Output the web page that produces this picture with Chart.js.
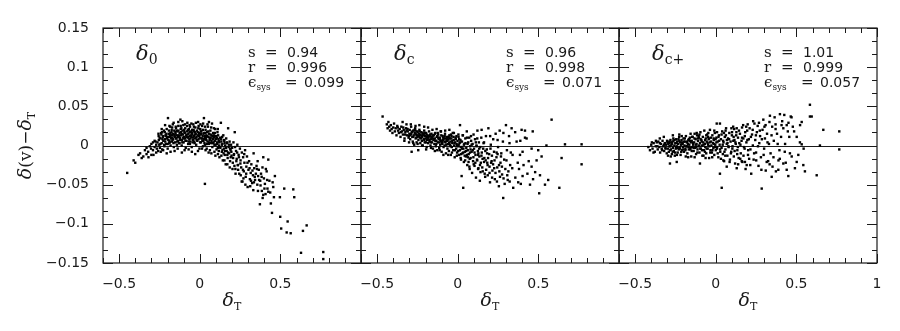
<!DOCTYPE html>
<html lang="en">
<head>
<meta charset="UTF-8">
<title>delta(v) - delta_T residuals</title>
<script src="https://cdn.jsdelivr.net/npm/chart.js@4.4.1/dist/chart.umd.min.js"></script>
<style>
    html, body { margin: 0; padding: 0; background: #fff; }
    #wrap { position: relative; width: 900px; height: 331px; }
    #wrap canvas { position: absolute; left: 0; top: 0; }
</style>
</head>
<body>
<div id="wrap">
    <canvas id="p0" width="900" height="331"></canvas>
    <canvas id="p1" width="900" height="331"></canvas>
    <canvas id="p2" width="900" height="331"></canvas>
</div>
<script>
// labelled ticks
const xLabelled = [-0.5, 0, 0.5, 1];
const yLabelled = [-0.15, -0.1, -0.05, 0, 0.05, 0.1, 0.15];

// panel names and fit statistics (s, r, eps_sys)
const panelNames = ['0', 'c', 'c+'];
const statS = ['0.94', '0.96', '1.01'];
const statR = ['0.996', '0.998', '0.999'];
const statEps = ['0.099', '0.071', '0.057'];

// delta_0 : [delta_T, delta(v) - delta_T]
const delta0Points = [
  [-0.45,-0.035],[-0.41,-0.019],[-0.40,-0.022],[-0.38,-0.012],[-0.37,-0.010],[-0.36,-0.016],[-0.35,-0.014],[-0.34,-0.006],
  [-0.33,-0.011],[-0.33,-0.003],[-0.32,-0.008],[-0.31,-0.001],[-0.30,-0.012],[-0.30,0.002],[-0.29,-0.006],[-0.29,0.004],
  [-0.28,-0.002],[-0.28,0.006],[-0.27,-0.009],[-0.27,0.001],
  [-0.262,0.004],[-0.258,-0.007],[-0.255,0.012],[-0.251,0.001],[-0.247,-0.003],[-0.243,0.009],[-0.240,0.016],[-0.236,0.003],
  [-0.233,-0.005],[-0.229,0.011],[-0.226,0.006],[-0.222,0.019],[-0.219,-0.001],[-0.215,0.008],[-0.212,0.013],[-0.208,0.002],
  [-0.205,0.021],[-0.202,0.010],[-0.199,-0.004],[-0.197,0.035],
  [-0.195,0.007],[-0.192,0.015],[-0.189,0.003],[-0.186,0.011],[-0.183,0.024],[-0.181,0.000],[-0.178,0.009],[-0.175,0.017],
  [-0.172,0.005],[-0.170,0.013],[-0.167,0.027],[-0.164,0.008],[-0.161,-0.002],[-0.158,0.019],[-0.156,0.011],[-0.153,0.004],
  [-0.150,0.015],[-0.147,0.022],[-0.145,0.009],[-0.142,0.001],[-0.140,0.013],
  [-0.138,0.018],[-0.135,0.006],[-0.133,0.025],[-0.130,0.011],[-0.127,0.003],[-0.125,0.016],[-0.122,0.009],[-0.120,0.033],
  [-0.118,0.021],[-0.115,0.013],[-0.112,0.000],[-0.110,0.007],[-0.107,0.019],[-0.105,0.014],[-0.102,0.026],[-0.100,0.004],
  [-0.097,0.011],[-0.095,0.017],[-0.092,0.009],[-0.090,0.022],[-0.087,-0.003],[-0.085,0.013],[-0.082,0.006],[-0.080,0.018],
  [-0.077,0.029],[-0.075,0.010],[-0.072,0.002],[-0.070,0.015],[-0.067,0.021],[-0.065,0.008],[-0.062,0.012],[-0.060,0.024],
  [-0.058,0.005],[-0.055,0.017],[-0.052,0.011],[-0.050,-0.002],[-0.047,0.020],[-0.045,0.014],[-0.042,0.007],[-0.040,0.027],
  [-0.037,0.012],[-0.035,0.018],[-0.032,0.003],[-0.030,0.009],[-0.027,0.023],[-0.025,0.015],[-0.022,0.001],[-0.020,0.011],
  [-0.017,0.019],[-0.015,0.006],[-0.012,0.013],[-0.010,0.030],[-0.007,0.008],[-0.005,0.016],[-0.002,-0.004],[0.000,0.010],
  [0.003,0.021],[0.005,0.014],[0.008,0.004],[0.010,0.018],[0.013,0.009],[0.015,0.025],[0.018,0.012],[0.020,-0.001],
  [0.023,0.006],[0.026,0.035],[0.028,0.016],[0.031,0.010],[0.033,0.001],[0.036,0.020],[0.038,0.008],[0.041,0.013],
  [0.043,-0.004],[0.046,0.017],[0.048,0.005],[0.051,0.024],[0.053,0.011],[0.056,0.002],[0.058,0.015],[0.061,0.007],
  [0.063,-0.006],[0.066,0.019],[0.068,0.010],[0.071,0.003],[0.073,0.013],[0.076,0.028],[0.078,-0.002],[0.081,0.008],
  [0.083,0.016],[0.086,0.004],[0.088,0.011],[0.091,-0.008],[0.093,0.006],[0.096,0.021],[0.098,0.001],
  [0.101,0.012],[0.104,-0.005],[0.107,0.004],[0.110,0.017],[0.113,-0.011],[0.116,0.008],[0.119,0.000],[0.122,-0.015],
  [0.125,0.010],[0.128,-0.003],[0.131,0.029],[0.134,0.005],[0.137,-0.008],[0.140,0.002],[0.143,-0.019],[0.146,0.013],
  [0.149,-0.004],[0.152,0.006],[0.155,-0.012],[0.158,0.000],[0.161,-0.024],[0.164,0.009],[0.167,-0.007],[0.170,0.003],
  [0.173,-0.016],[0.176,0.022],[0.179,-0.002],[0.182,-0.010],[0.185,0.005],[0.188,-0.020],[0.191,-0.006],[0.194,0.001],
  [0.197,-0.013],
  [0.201,-0.003],[0.205,-0.022],[0.209,0.004],[0.213,-0.011],[0.217,0.017],[0.221,-0.030],[0.225,-0.007],[0.229,-0.017],
  [0.233,0.001],[0.237,-0.025],[0.241,-0.012],[0.245,-0.036],[0.249,-0.004],[0.253,-0.019],[0.257,-0.028],[0.261,-0.009],
  [0.265,-0.046],[0.269,-0.015],[0.273,-0.033],[0.277,-0.022],[0.281,-0.006],[0.285,-0.040],[0.289,-0.027],[0.293,-0.014],
  [0.297,-0.053],
  [0.302,-0.031],[0.306,-0.020],[0.311,-0.043],[0.316,-0.035],[0.320,-0.024],[0.325,-0.048],[0.330,-0.038],[0.332,-0.057],
  [0.334,-0.010],[0.338,-0.029],[0.343,-0.044],[0.348,-0.036],[0.352,-0.026],[0.357,-0.050],[0.362,-0.039],[0.366,-0.031],
  [0.373,-0.075],[0.375,-0.045],[0.380,-0.036],[0.385,-0.058],[0.390,-0.067],[0.394,-0.015],[0.394,-0.063],[0.398,-0.042],
  [0.404,-0.049],[0.410,-0.030],[0.415,-0.033],[0.420,-0.055],[0.425,-0.059],[0.425,-0.018],[0.432,-0.045],[0.441,-0.074],
  [0.448,-0.086],[0.456,-0.053],[0.460,-0.066],[0.466,-0.039],
  [0.497,-0.066],[0.499,-0.091],[0.505,-0.106],[0.524,-0.055],[0.539,-0.111],[0.545,-0.097],[0.564,-0.112],[0.580,-0.056],
  [0.586,-0.066],[0.628,-0.137],[0.640,-0.109],[0.663,-0.102],[0.766,-0.136],[0.766,-0.145],[0.032,-0.049],[0.260,-0.046],
  // dense arch
  [-0.231,0.008],[-0.174,0.020],[-0.093,0.016],[-0.018,0.007],[0.047,0.012],[0.121,0.004],[-0.207,0.015],[-0.141,0.005],
  [-0.064,0.017],[0.006,0.018],[0.084,0.009],[0.163,-0.003],[-0.249,0.010],[-0.188,0.006],[-0.117,0.017],[-0.041,0.010],
  [0.029,0.003],[0.102,0.008],[0.188,-0.004],[-0.221,0.001],[-0.159,0.014],[-0.083,0.011],[-0.009,0.022],[0.067,0.014],
  [0.141,-0.006],[-0.196,0.011],[-0.132,0.019],[-0.057,0.009],[0.016,0.006],[0.091,0.001],[0.211,-0.012],[-0.238,0.014],
  [-0.169,0.007],[-0.104,0.010],[-0.028,0.014],[0.041,0.007],[0.114,0.013],[0.176,-0.009],[-0.214,0.005],[-0.151,0.017],
  [-0.073,0.020],[-0.003,0.013],[0.058,0.004],[0.133,0.008],[0.227,-0.020],[-0.184,0.013],[-0.126,0.003],[-0.049,0.016],
  [0.023,0.015],[0.098,0.009],[0.154,0.003],[-0.203,0.009],[-0.137,0.011],[-0.068,0.005],[0.011,0.009],[0.073,0.006],
  [0.148,-0.010],[0.243,-0.015],[-0.226,0.012],[-0.163,0.003],[-0.097,0.020],[-0.034,0.005],[0.035,0.016],[0.108,0.002],
  [-0.178,0.013],[-0.112,0.015],[-0.038,0.020],[0.053,0.018],[0.126,-0.002],[0.196,-0.008],[-0.244,0.002],[-0.191,0.019],
  [-0.121,0.007],[-0.054,0.013],[0.002,0.004],[0.079,0.012],[0.168,0.004],[-0.217,0.017],[-0.146,0.009],[-0.078,0.014],
  [-0.013,0.017],[0.061,0.010],[0.137,0.001],[0.219,-0.002],[-0.199,0.002],[-0.129,0.013],[-0.061,0.002],[0.019,0.020],
  [0.088,0.013],[0.158,-0.007],[-0.172,0.010],[-0.108,0.004],[-0.046,0.019],[0.031,0.012],[0.106,0.010],[0.181,0.001],
  [-0.233,0.017],[-0.155,0.012],[-0.089,0.006],[-0.024,0.010],[0.044,0.002],[0.119,0.006],[0.207,-0.016],[-0.182,0.016],
  [-0.114,0.022],[-0.044,0.004],[0.027,0.008],[0.094,0.016],[0.171,-0.012],[-0.209,0.012],[-0.143,0.019],[-0.071,0.011],
  [-0.006,0.012],[0.064,0.008],[0.139,0.011],[0.236,-0.025],[-0.167,0.015],[-0.099,0.009],[-0.031,0.017],[0.038,0.011],
  [0.112,-0.003],[0.192,-0.015],[-0.254,0.007],[-0.186,0.004],[-0.124,0.010],[-0.059,0.018],[0.009,0.015],[0.081,0.003],
  [0.151,0.007],[0.215,-0.026],[0.232,-0.009],[0.252,-0.023],[0.268,-0.031],[0.276,-0.011],[0.288,-0.036],[0.296,-0.022],
  [0.309,-0.029],[0.318,-0.045],[0.327,-0.032],[0.341,-0.040],[0.355,-0.030],[0.368,-0.044],[0.384,-0.040],[0.401,-0.055],
  [0.418,-0.044],[0.437,-0.060],[0.452,-0.047],
  // arch fringes
  [-0.215,0.026],[-0.162,0.029],[-0.108,0.031],[-0.052,0.028],[0.004,0.027],[0.057,0.030],[-0.188,0.025],[-0.133,0.030],
  [-0.079,0.025],[-0.024,0.029],[0.033,0.024],[0.088,0.022],[-0.236,0.021],[-0.149,0.024],[-0.092,0.027],[-0.036,0.024],
  [0.021,0.028],[0.071,0.023],[0.112,0.021],[-0.171,0.023],[-0.118,0.025],[-0.063,0.026],[-0.007,0.025],[0.048,0.027],
  [-0.227,-0.006],[-0.181,-0.008],[-0.137,-0.004],[-0.094,-0.006],[-0.049,-0.008],[-0.011,-0.007],[0.036,-0.006],[0.072,-0.010],
  [0.118,-0.007],[-0.205,-0.010],[-0.156,-0.007],[-0.111,-0.009],[-0.069,-0.005],[-0.028,-0.011],[0.014,-0.004],[0.055,-0.009],
  [0.097,-0.013],[0.134,-0.013],[0.153,-0.019],[0.171,-0.024],[0.186,-0.028],[0.203,-0.030],[0.222,-0.036],[0.238,-0.031],
  [0.254,-0.038],[0.271,-0.042],[0.283,-0.050],[0.313,-0.052],[0.336,-0.047],[0.361,-0.058],[0.377,-0.051],[0.408,-0.062],
  [0.389,-0.028],[0.359,-0.020],[-0.318,-0.015],[-0.302,-0.004],[-0.287,-0.012],[-0.274,0.005],[-0.266,-0.004],[-0.256,0.015],
  [-0.242,-0.008]
];

// delta_c
const deltaCPoints = [
  [-0.466,0.037],[-0.440,0.027],[-0.435,0.022],[-0.430,0.030],[-0.425,0.024],[-0.420,0.019],[-0.415,0.026],[-0.410,0.021],
  [-0.405,0.016],[-0.400,0.023],[-0.395,0.028],[-0.390,0.018],[-0.385,0.022],[-0.380,0.013],[-0.375,0.025],[-0.370,0.019],
  [-0.365,0.016],[-0.360,0.021],[-0.355,0.011],[-0.350,0.024],[-0.345,0.018],[-0.340,0.014],[-0.335,0.020],[-0.330,0.009],
  [-0.325,0.017],[-0.320,0.022],[-0.315,0.013],[-0.310,0.018],[-0.305,0.010],[-0.300,0.015],
  [-0.298,0.020],[-0.295,0.008],[-0.292,0.014],[-0.289,0.024],[-0.286,-0.008],[-0.285,0.017],[-0.282,0.011],[-0.279,0.005],
  [-0.276,0.019],[-0.273,0.013],[-0.270,0.001],[-0.267,0.016],[-0.264,0.022],[-0.261,0.009],[-0.258,0.014],[-0.255,0.004],
  [-0.252,0.018],[-0.249,0.011],[-0.245,-0.006],[-0.244,0.007],[-0.241,0.015],[-0.238,0.020],[-0.235,0.010],[-0.232,0.003],
  [-0.229,0.013],[-0.226,0.017],[-0.223,0.006],[-0.220,0.011],[-0.217,0.000],[-0.214,0.015],[-0.211,0.008],[-0.208,0.019],
  [-0.205,0.004],[-0.202,0.012],[-0.199,0.009],[-0.196,0.016],[-0.193,-0.002],[-0.190,0.007],[-0.187,0.013],[-0.184,0.003],
  [-0.181,0.010],[-0.178,0.018],[-0.175,0.005],[-0.172,0.012],[-0.169,0.000],[-0.166,0.008],[-0.163,0.015],[-0.160,0.004],
  [-0.157,0.010],[-0.154,-0.004],[-0.151,0.007],
  [-0.148,0.013],[-0.145,0.002],[-0.142,0.009],[-0.139,0.016],[-0.136,-0.001],[-0.133,0.006],[-0.130,0.011],[-0.127,-0.006],
  [-0.124,0.004],[-0.121,0.014],[-0.118,0.008],[-0.115,-0.003],[-0.112,0.010],[-0.109,0.001],[-0.106,0.018],[-0.103,0.006],
  [-0.100,-0.008],[-0.097,0.003],[-0.094,0.012],[-0.091,0.007],[-0.088,-0.002],[-0.085,0.009],[-0.082,0.000],[-0.079,0.015],
  [-0.076,0.004],[-0.073,-0.010],[-0.070,0.006],[-0.067,0.011],[-0.064,-0.004],[-0.061,0.002],[-0.058,0.008],[-0.055,-0.007],
  [-0.052,0.013],[-0.049,0.001],[-0.046,0.005],[-0.043,-0.012],[-0.040,0.009],[-0.037,-0.002],[-0.034,0.003],[-0.031,0.016],
  [-0.028,-0.006],[-0.025,0.007],[-0.022,0.000],[-0.019,-0.015],[-0.016,0.004],[-0.013,0.010],[-0.010,-0.004],[-0.007,0.002],
  [-0.004,-0.009],[-0.001,0.006],
  [0.002,-0.001],[0.005,0.011],[0.008,-0.012],[0.011,0.003],[0.014,0.026],[0.014,-0.006],[0.017,0.007],[0.020,-0.018],
  [0.023,-0.002],[0.024,-0.039],[0.026,0.005],[0.029,-0.010],[0.032,0.013],[0.034,-0.054],[0.035,-0.004],[0.038,-0.021],
  [0.041,0.002],[0.044,-0.008],[0.047,0.009],[0.050,-0.014],[0.053,-0.003],[0.056,0.018],[0.059,-0.025],[0.062,-0.006],
  [0.065,0.004],[0.068,-0.011],[0.071,0.010],[0.074,-0.030],[0.077,-0.001],[0.080,-0.016],[0.083,0.006],[0.086,-0.008],
  [0.089,-0.035],[0.092,0.002],[0.095,-0.020],[0.098,0.014],[0.101,-0.004],[0.104,-0.026],[0.107,0.008],[0.110,-0.012],
  [0.113,-0.041],[0.116,0.000],[0.119,-0.018],[0.122,0.019],[0.125,-0.007],[0.128,-0.029],[0.131,0.004],[0.134,-0.014],
  [0.137,-0.045],[0.140,-0.002],[0.143,-0.022],[0.146,0.010],[0.148,0.020],[0.149,-0.009],
  [0.155,-0.033],[0.160,0.003],[0.165,-0.016],[0.170,-0.040],[0.175,0.012],[0.180,-0.005],[0.185,-0.025],[0.190,0.022],
  [0.195,-0.011],[0.200,-0.047],[0.205,0.001],[0.210,-0.020],[0.215,-0.032],[0.220,0.008],[0.225,-0.008],[0.230,-0.043],
  [0.235,0.015],[0.240,-0.015],[0.245,-0.028],[0.250,-0.002],[0.255,-0.052],[0.260,0.019],[0.265,-0.022],[0.270,-0.010],
  [0.275,-0.037],[0.280,0.005],[0.282,-0.067],[0.288,-0.018],[0.295,-0.030],[0.299,0.026],[0.305,-0.006],[0.310,-0.044],
  [0.318,0.012],[0.325,-0.025],[0.334,0.022],[0.340,-0.012],[0.344,-0.054],
  [0.365,0.005],[0.375,-0.047],[0.380,-0.030],[0.386,-0.012],[0.396,0.020],[0.402,-0.039],[0.402,-0.008],[0.417,0.019],
  [0.417,0.010],[0.427,0.009],[0.440,-0.020],[0.448,-0.050],[0.458,-0.027],[0.458,-0.004],[0.465,0.018],[0.480,-0.034],
  [0.499,-0.006],[0.505,-0.061],[0.510,-0.038],[0.520,-0.014],[0.541,-0.050],[0.561,-0.044],[0.582,0.033],[0.630,-0.054],
  [0.644,-0.016],[0.665,0.0015],[0.768,0.0015],[0.768,-0.024],[0.550,0.000],
  // dense band
  [-0.372,0.023],[-0.311,0.021],[-0.262,0.015],[-0.203,0.016],[-0.148,0.008],[-0.091,0.010],[-0.034,0.006],[0.027,-0.004],
  [0.086,0.001],[0.147,-0.013],[-0.352,0.017],[-0.296,0.013],[-0.241,0.012],[-0.187,0.008],[-0.127,0.012],[-0.071,0.001],
  [-0.012,0.008],[0.043,-0.013],[0.104,-0.009],[0.163,-0.021],[-0.338,0.023],[-0.281,0.018],[-0.228,0.009],[-0.171,0.014],
  [-0.113,0.004],[-0.056,0.011],[0.003,-0.007],[0.061,0.002],[0.121,-0.019],[0.182,-0.010],[-0.327,0.014],[-0.268,0.020],
  [-0.213,0.013],[-0.159,0.009],[-0.102,0.013],[-0.044,-0.001],[0.015,0.004],[0.074,-0.017],[0.133,-0.004],[0.197,-0.027],
  [-0.318,0.019],[-0.257,0.010],[-0.198,0.004],[-0.142,0.015],[-0.083,0.005],[-0.026,0.011],[0.034,-0.009],[0.093,-0.006],
  [0.154,-0.017],[0.212,-0.013],[-0.303,0.012],[-0.249,0.017],[-0.191,0.011],[-0.133,0.002],[-0.077,0.009],[-0.017,-0.006],
  [0.048,0.003],[0.109,-0.022],[0.171,-0.007],[0.228,-0.019],[-0.289,0.015],[-0.234,0.014],[-0.176,0.007],[-0.121,0.010],
  [-0.063,0.006],[-0.005,0.000],[0.057,-0.012],[0.117,-0.001],[0.176,-0.031],[0.241,-0.009],[-0.276,0.011],[-0.219,0.016],
  [-0.164,0.011],[-0.108,0.007],[-0.049,0.009],[0.009,0.008],[0.067,-0.021],[0.128,-0.010],[0.188,-0.016],[0.256,-0.025],
  [-0.263,0.019],[-0.207,0.007],[-0.153,0.013],[-0.096,0.002],[-0.039,0.012],[0.021,-0.011],[0.079,-0.005],[0.138,-0.025],
  [0.203,-0.004],[0.268,-0.014],[-0.253,0.013],[-0.194,0.014],[-0.139,0.006],[-0.081,0.012],[-0.021,0.003],[0.038,0.001],
  [0.097,-0.015],[0.158,-0.004],[0.219,-0.024],[0.284,-0.042],[-0.236,0.018],[-0.181,0.012],[-0.124,0.016],[-0.067,0.008],
  [-0.008,0.012],[0.052,-0.007],[0.112,0.004],[0.173,-0.019],[0.234,-0.035],[0.302,-0.019],[-0.223,0.012],[-0.167,0.004],
  [-0.111,0.009],[-0.053,0.003],[0.006,0.001],[0.063,-0.015],[0.126,-0.012],[0.186,-0.038],[0.247,-0.011],[0.314,-0.033],
  [-0.211,0.015],[-0.156,0.012],[-0.099,0.005],[-0.042,0.014],[0.018,-0.002],[0.076,-0.009],[0.141,-0.034],[0.207,-0.022],
  [0.262,-0.040],[0.329,-0.009],
  // band fringes
  [-0.342,0.030],[-0.291,0.027],[-0.238,0.026],[-0.184,0.023],[-0.131,0.021],[-0.078,0.019],[-0.024,0.016],[0.031,0.013],
  [0.082,0.012],[-0.318,0.027],[-0.262,0.025],[-0.208,0.024],[-0.157,0.020],[-0.104,0.018],[-0.052,0.020],[0.004,0.014],
  [0.057,0.010],[0.121,0.009],[-0.331,0.006],[-0.276,0.003],[-0.221,0.000],[-0.166,-0.003],[-0.112,-0.006],[-0.059,-0.012],
  [-0.006,-0.013],[0.046,-0.019],[0.099,-0.024],[-0.302,0.004],[-0.249,0.002],[-0.196,-0.005],[-0.142,-0.007],[-0.089,-0.012],
  [-0.036,-0.009],[0.018,-0.016],[0.072,-0.027],[0.126,-0.030],[0.152,-0.028],[0.167,-0.036],[0.183,-0.022],[0.197,-0.035],
  [0.213,-0.041],[0.226,-0.029],[0.243,-0.046],[0.258,-0.033],[0.274,-0.027],[0.291,-0.049],[0.307,-0.038],[0.322,-0.046],
  [0.338,-0.029],[0.357,-0.041],[0.372,-0.022],[0.391,-0.049],[0.408,-0.025],[0.432,-0.036],[0.467,-0.043],[0.489,-0.019],
  [0.163,0.004],[0.201,0.012],[0.247,0.007],[0.283,0.016],[0.321,0.003],[0.356,0.017],[0.388,0.006]
];

// delta_c+
const deltaCPlusPoints = [
  [-0.418,-0.002],[-0.408,-0.006],[-0.400,0.001],[-0.392,-0.004],[-0.385,0.003],[-0.378,-0.008],[-0.372,-0.001],[-0.366,0.004],
  [-0.360,-0.005],[-0.356,0.005],[-0.350,-0.002],[-0.345,-0.009],[-0.340,0.002],[-0.335,-0.004],[-0.330,0.006],[-0.325,-0.001],
  [-0.320,-0.007],[-0.316,0.003],[-0.312,-0.003],[-0.308,0.001],[-0.304,-0.010],[-0.300,0.004],
  [-0.297,-0.004],[-0.294,0.002],[-0.291,-0.008],[-0.288,0.005],[-0.284,-0.023],[-0.284,-0.001],[-0.281,0.007],[-0.278,-0.005],
  [-0.275,0.001],[-0.272,-0.011],[-0.269,0.004],[-0.266,-0.003],[-0.263,0.009],[-0.260,-0.007],[-0.257,0.000],[-0.254,-0.013],
  [-0.251,0.003],[-0.248,-0.004],[-0.245,0.008],[-0.242,-0.021],[-0.242,-0.001],[-0.239,0.005],[-0.236,-0.009],[-0.233,0.002],
  [-0.230,-0.005],[-0.227,0.011],[-0.224,-0.002],[-0.221,0.004],[-0.218,-0.012],[-0.215,0.001],[-0.212,0.007],[-0.209,-0.006],
  [-0.206,0.003],[-0.203,-0.002],[-0.200,0.009],[-0.197,-0.008],[-0.194,0.000],[-0.191,0.005],[-0.188,-0.004],[-0.185,0.012],
  [-0.182,-0.001],[-0.179,0.004],[-0.176,-0.010],[-0.173,0.002],[-0.170,0.007],[-0.167,-0.005],[-0.164,0.001],[-0.161,0.010],
  [-0.158,-0.003],[-0.155,0.004],[-0.152,-0.014],
  [-0.149,0.006],[-0.146,-0.002],[-0.143,0.011],[-0.140,0.001],[-0.137,-0.007],[-0.134,0.004],[-0.131,0.015],[-0.128,-0.003],
  [-0.125,0.008],[-0.122,-0.011],[-0.119,0.002],[-0.116,0.013],[-0.113,-0.005],[-0.110,0.006],[-0.107,-0.001],[-0.104,0.010],
  [-0.101,-0.009],[-0.098,-0.023],[-0.098,0.003],[-0.095,0.017],[-0.092,-0.004],[-0.089,0.007],[-0.086,0.000],[-0.083,-0.013],
  [-0.080,0.011],[-0.077,0.004],[-0.074,-0.006],[-0.071,0.019],[-0.068,0.002],[-0.065,-0.002],[-0.062,0.009],[-0.059,-0.010],
  [-0.056,0.005],[-0.053,0.014],[-0.050,-0.004],[-0.047,0.001],[-0.044,0.008],[-0.041,-0.016],[-0.038,0.004],[-0.036,0.020],
  [-0.033,-0.006],[-0.030,0.010],[-0.027,0.000],[-0.024,-0.009],[-0.021,0.013],[-0.018,0.003],[-0.015,-0.003],[-0.012,0.007],
  [-0.009,-0.012],[-0.006,0.016],[-0.003,0.001],
  [0.000,-0.006],[0.004,0.010],[0.006,0.028],[0.008,-0.002],[0.012,0.005],[0.016,-0.015],[0.020,0.013],[0.024,0.001],
  [0.026,0.028],[0.026,-0.036],[0.028,-0.008],[0.032,0.008],[0.036,-0.003],[0.037,-0.054],[0.040,0.018],[0.044,-0.011],
  [0.048,0.004],[0.052,-0.020],[0.056,0.011],[0.060,-0.005],[0.064,0.022],[0.068,-0.027],[0.068,0.002],[0.072,-0.013],
  [0.076,0.009],[0.080,-0.002],[0.084,0.016],[0.088,-0.018],[0.092,0.005],[0.096,-0.008],[0.100,0.013],[0.104,-0.001],
  [0.108,0.024],[0.112,-0.014],[0.116,0.007],[0.120,-0.023],[0.124,0.002],[0.128,0.017],[0.130,0.022],[0.130,-0.029],
  [0.134,-0.006],[0.138,0.010],[0.142,-0.016],[0.146,0.003],
  [0.150,0.015],[0.155,-0.010],[0.160,0.006],[0.165,-0.021],[0.170,0.026],[0.175,-0.002],[0.180,0.012],[0.185,-0.030],
  [0.190,0.004],[0.192,-0.025],[0.195,0.019],[0.200,-0.012],[0.205,0.008],[0.210,0.022],[0.215,-0.005],[0.220,-0.036],
  [0.225,0.014],[0.230,0.000],[0.235,-0.018],[0.240,0.028],[0.245,0.007],[0.250,-0.009],[0.255,0.017],[0.260,0.025],
  [0.265,-0.026],[0.270,0.003],[0.275,0.012],[0.280,-0.015],[0.285,-0.055],[0.290,0.020],[0.295,0.033],[0.300,-0.004],
  [0.305,0.009],[0.310,-0.032],[0.318,0.015],[0.325,-0.020],[0.330,0.002],[0.336,0.038],[0.340,-0.010],[0.347,-0.040],
  [0.350,0.024],
  [0.360,0.006],[0.365,0.036],[0.373,-0.033],[0.380,0.015],[0.388,-0.031],[0.395,-0.006],[0.398,0.040],[0.405,0.011],
  [0.419,0.022],[0.419,-0.023],[0.425,0.039],[0.430,0.002],[0.440,0.026],[0.440,-0.031],[0.450,-0.039],[0.456,0.011],
  [0.460,-0.010],[0.465,0.037],[0.471,-0.014],[0.470,0.036],[0.502,0.011],[0.502,-0.021],[0.522,0.004],[0.533,0.0015],
  [0.533,0.030],[0.543,-0.025],[0.553,-0.033],[0.584,0.052],[0.584,0.037],[0.595,0.037],[0.626,-0.038],[0.646,0.000],
  [0.667,0.020],[0.766,0.018],[0.766,-0.005],
  // dense core
  [-0.362,-0.001],[-0.291,0.003],[-0.236,-0.003],[-0.177,0.005],[-0.121,-0.002],[-0.066,0.007],[-0.011,0.002],[0.046,0.006],
  [0.103,-0.004],[0.163,0.010],[-0.347,0.003],[-0.282,-0.006],[-0.226,0.006],[-0.169,-0.002],[-0.112,0.009],[-0.057,-0.004],
  [-0.001,0.008],[0.054,-0.008],[0.111,0.011],[0.172,-0.013],[-0.333,-0.006],[-0.273,0.002],[-0.214,-0.008],[-0.161,0.006],
  [-0.103,0.000],[-0.048,0.011],[0.008,-0.004],[0.063,0.013],[0.122,0.004],[0.183,0.017],[-0.322,0.001],[-0.263,0.006],
  [-0.206,0.002],[-0.149,-0.007],[-0.094,0.008],[-0.039,-0.001],[0.017,0.011],[0.073,0.003],[0.133,-0.011],[0.196,0.007],
  [-0.311,-0.004],[-0.252,-0.009],[-0.197,0.005],[-0.141,0.003],[-0.085,-0.006],[-0.029,0.005],[0.027,-0.005],[0.083,0.008],
  [0.144,0.019],[0.207,-0.017],[-0.302,0.006],[-0.244,0.003],[-0.188,-0.006],[-0.132,0.009],[-0.076,0.001],[-0.021,-0.006],
  [0.036,0.014],[0.094,-0.010],[0.153,0.001],[0.218,0.011],[-0.287,-0.001],[-0.231,0.008],[-0.179,-0.001],[-0.124,0.001],
  [-0.067,-0.008],[-0.013,0.009],[0.043,0.001],[0.101,0.017],[0.161,-0.020],[0.229,0.020],[-0.276,0.004],[-0.221,-0.004],
  [-0.166,0.008],[-0.114,-0.009],[-0.059,0.013],[-0.004,-0.002],[0.051,0.016],[0.109,0.006],[0.171,0.009],[0.238,-0.010],
  [-0.267,-0.008],[-0.211,0.004],[-0.157,-0.005],[-0.106,0.012],[-0.051,0.003],[0.004,0.004],[0.059,-0.013],[0.117,-0.007],
  [0.179,-0.004],[0.249,0.013],[-0.256,0.007],[-0.201,-0.005],[-0.146,0.011],[-0.096,-0.004],[-0.042,0.009],[0.012,-0.010],
  [0.069,0.007],[0.127,0.013],[0.189,0.024],[0.262,-0.001],[-0.246,-0.002],[-0.192,0.009],[-0.137,-0.003],[-0.087,0.005],
  [-0.034,-0.009],[0.021,0.006],[0.078,-0.001],[0.137,-0.002],[0.201,-0.006],[0.273,0.019],[0.286,0.008],[0.297,-0.012],
  [0.309,0.026],[0.321,0.004],[0.334,-0.024],[0.346,0.013],[0.358,-0.015],[0.371,0.027],[0.384,0.002],[0.397,-0.017],
  [0.412,0.031],[0.428,-0.008],[0.447,0.018],[0.478,0.024],[0.491,-0.029],
  // core fringes
  [-0.322,0.011],[-0.266,0.013],[-0.211,0.012],[-0.156,0.015],[-0.101,0.014],[-0.046,0.016],[0.008,0.017],[0.061,0.019],
  [0.114,0.021],[-0.296,-0.013],[-0.241,-0.012],[-0.186,-0.014],[-0.131,-0.015],[-0.076,-0.013],[-0.022,-0.015],[0.032,-0.017],
  [0.086,-0.021],[0.139,-0.024],[-0.347,0.009],[-0.279,-0.014],[-0.226,0.014],[-0.171,-0.015],[-0.118,0.016],[-0.063,-0.016],
  [-0.009,0.019],[0.047,-0.019],[0.097,0.022],[0.152,-0.017],[0.163,0.023],[0.181,-0.021],[0.198,0.027],[0.214,-0.025],
  [0.232,0.031],[0.251,-0.019],[0.268,0.029],[0.283,-0.031],[0.302,0.024],[0.316,-0.021],[0.333,0.030],[0.352,-0.027],
  [0.371,0.021],[0.389,-0.019],[0.408,0.026],[0.434,-0.022],[0.451,0.029],[0.486,0.018],[0.512,-0.012],[0.523,0.026],
  [0.545,-0.004],[-0.386,-0.009],[-0.371,0.006],[-0.396,0.004]
];

const allPoints = [delta0Points, deltaCPoints, deltaCPlusPoints];

const INK = '#1a1a1a';
const NUM_FONT = '14px "DejaVu Sans"';
const SERIF = '"DejaVu Serif"';

function isIn(v, list) {
    return list.some(t => Math.abs(t - v) < 1e-6);
}
function fmt(v) {
    return String(+v.toFixed(3)).replace('-', '\u2212');
}

// draws a run of text pieces (with sub-scripts) starting at x, or centred on x
function drawRun(ctx, x, y, parts, align) {
    let w = 0;
    parts.forEach(p => { ctx.font = p.font; w += ctx.measureText(p.t).width; });
    let cx = align === 'center' ? x - w / 2 : x;
    ctx.textAlign = 'left';
    parts.forEach(p => {
        ctx.font = p.font;
        ctx.fillText(p.t, cx, y + (p.dy || 0));
        cx += ctx.measureText(p.t).width;
    });
}

const deco = {
    id: 'deco',
    beforeDatasetsDraw(chart) {
        const {ctx, chartArea: a, scales: {x, y}} = chart;
        ctx.save();
        ctx.strokeStyle = INK;
        ctx.lineWidth = 1;
        const y0 = Math.round(y.getPixelForValue(0)) + 0.5;
        ctx.beginPath();
        ctx.moveTo(a.left, y0);
        ctx.lineTo(a.right, y0);
        ctx.stroke();
        ctx.restore();
    },
    afterDraw(chart, args, opts) {
        const {ctx, chartArea: a, scales: {x, y}} = chart;
        ctx.save();
        ctx.strokeStyle = INK;
        ctx.lineWidth = 1.2;
        ctx.strokeRect(a.left, a.top, a.right - a.left, a.bottom - a.top);

        // inward ticks on all four sides
        ctx.lineWidth = 1;
        ctx.beginPath();
        x.ticks.forEach(t => {
            const px = Math.round(x.getPixelForValue(t.value)) + 0.5;
            const len = isIn(t.value, xLabelled) ? 9 : 5;
            ctx.moveTo(px, a.bottom); ctx.lineTo(px, a.bottom - len);
            ctx.moveTo(px, a.top); ctx.lineTo(px, a.top + len);
        });
        y.ticks.forEach(t => {
            const py = Math.round(y.getPixelForValue(t.value)) + 0.5;
            const len = isIn(t.value, yLabelled) ? 10 : 5;
            ctx.moveTo(a.left, py); ctx.lineTo(a.left + len, py);
            ctx.moveTo(a.right, py); ctx.lineTo(a.right - len, py);
        });
        ctx.stroke();

        ctx.fillStyle = INK;
        ctx.textBaseline = 'alphabetic';
        const L = a.left;
        const i = opts.index;

        // panel name
        drawRun(ctx, L + 33, 60, [
            {t: '\u03b4', font: 'italic 21px ' + SERIF},
            {t: panelNames[i], font: '14px ' + SERIF, dy: 4}
        ]);

        // statistics
        ctx.font = '15px ' + SERIF;
        ctx.fillText('s', L + 145, 57);
        ctx.fillText('r', L + 145, 72);
        drawRun(ctx, L + 145, 87, [
            {t: '\u03f5', font: '15px ' + SERIF},
            {t: 'sys', font: '9px ' + SERIF, dy: 3}
        ]);
        ctx.font = '15px ' + SERIF;
        ctx.fillText('=', L + 162, 57);
        ctx.fillText('=', L + 162, 72);
        ctx.fillText('=', L + 182, 87);
        ctx.font = NUM_FONT;
        ctx.fillText(statS[i], L + 184, 57);
        ctx.fillText(statR[i], L + 184, 72);
        ctx.fillText(statEps[i], L + 201, 87);

        // x title
        drawRun(ctx, (a.left + a.right) / 2, 306, [
            {t: '\u03b4', font: 'italic 19px ' + SERIF},
            {t: 'T', font: '11px ' + SERIF, dy: 4}
        ], 'center');

        // y title, first panel only
        if (i === 0) {
            ctx.save();
            ctx.translate(31, (a.top + a.bottom) / 2);
            ctx.rotate(-Math.PI / 2);
            drawRun(ctx, 0, 0, [
                {t: '\u03b4', font: 'italic 19px ' + SERIF},
                {t: '(v)\u2212', font: '17px ' + SERIF},
                {t: '\u03b4', font: 'italic 19px ' + SERIF},
                {t: 'T', font: '11px ' + SERIF, dy: 4}
            ], 'center');
            ctx.restore();
        }
        ctx.restore();
    }
};

const layouts = [
    {left: 0, right: 539},
    {left: 361, right: 281},
    {left: 619, right: 23}
];

allPoints.forEach((pts, i) => {
    const first = i === 0;
    const last = i === 2;
    new Chart(document.getElementById('p' + i), {
        type: 'scatter',
        data: {
            datasets: [{
                data: pts.map(p => ({x: p[0], y: p[1]})),
                backgroundColor: '#000',
                borderWidth: 0,
                pointStyle: 'rect',
                pointRadius: 1.7,
                pointHoverRadius: 1.7
            }]
        },
        options: {
            responsive: false,
            animation: false,
            events: [],
            layout: {padding: {left: layouts[i].left, right: layouts[i].right, top: 28, bottom: 0}},
            plugins: {
                legend: {display: false},
                tooltip: {enabled: false},
                deco: {index: i}
            },
            scales: {
                x: {
                    type: 'linear',
                    min: -0.6,
                    max: 1.0,
                    grid: {display: false},
                    border: {display: false},
                    afterFit: s => { s.height = 68; },
                    ticks: {
                        stepSize: 0.1,
                        autoSkip: false,
                        maxRotation: 0,
                        padding: 5,
                        color: INK,
                        font: {family: 'DejaVu Sans', size: 14},
                        callback: v => {
                            if (!isIn(v, xLabelled)) return '';
                            if (Math.abs(v - 1) < 1e-6 && !last) return '';
                            return fmt(v);
                        }
                    }
                },
                y: {
                    type: 'linear',
                    min: -0.15,
                    max: 0.15,
                    grid: {display: false},
                    border: {display: false},
                    afterFit: s => { s.width = first ? 103 : 0; },
                    ticks: {
                        display: first,
                        count: 19,
                        autoSkip: false,
                        padding: 6,
                        color: INK,
                        font: {family: 'DejaVu Sans', size: 14},
                        callback: v => isIn(v, yLabelled) ? fmt(v) : ''
                    }
                }
            }
        },
        plugins: [deco]
    });
});
</script>
</body>
</html>
